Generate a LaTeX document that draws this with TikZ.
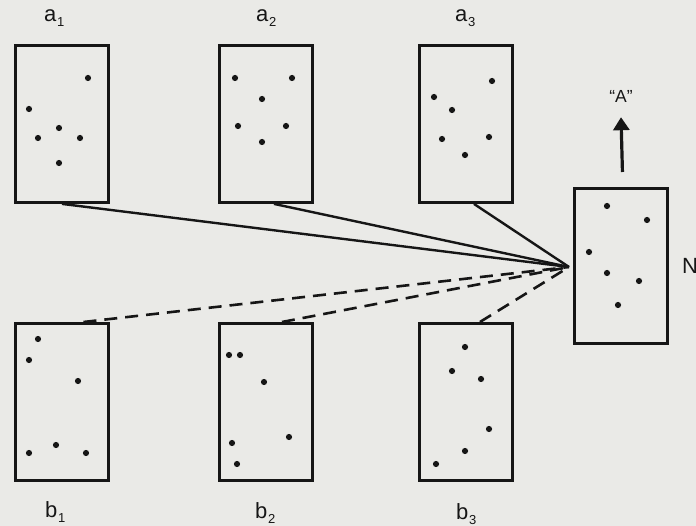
\documentclass[tikz,border=0pt]{standalone}
\usepackage{fontspec}
\setmainfont{Liberation Sans}
\usetikzlibrary{arrows.meta,calc}
\definecolor{bg}{RGB}{234,234,231}
\definecolor{ink}{RGB}{22,22,22}
\begin{document}
\begin{tikzpicture}[x=1pt,y=-1pt,
  box/.style={draw=ink, line width=2.9pt, minimum width=93pt, minimum height=157pt, inner sep=0pt, anchor=north west},
  conn/.style={draw=ink, line width=2.4pt},
  dconn/.style={draw=ink, line width=2.6pt, dash pattern=on 13pt off 8pt},
  lab/.style={font=\fontsize{22}{22}\selectfont, inner sep=0pt, anchor=base west, text=ink},
  dotc/.style={fill=ink}]
\useasboundingbox (0,0) rectangle (696,526);
\fill[bg] (0,0) rectangle (696,526);
\newcommand{\sbx}[1]{\kern0.6pt\raisebox{-5pt}{\fontsize{13}{13}\selectfont #1}}
% boxes
\node[box] (a1) at (14,44) {};
\node[box] (a2) at (218,44) {};
\node[box] (a3) at (418,44) {};
\node[box, minimum height=155pt] (N) at (573,187) {};
\node[box] (b1) at (14,322) {};
\node[box] (b2) at (218,322) {};
\node[box] (b3) at (418,322) {};
% dots
\foreach \p in {(88,78),(29,109),(59,128),(38,138),(80,138),(59,163),
                (235,78),(292,78),(262,99),(238,126),(286,126),(262,142),
                (492,81),(434,97),(452,110),(442,139),(489,137),(465,155),
                (607,206),(647,220),(589,252),(607,273),(639,281),(618,305),
                (38,339),(29,360),(78,381),(56,445),(29,453),(86,453),
                (229,355),(240,355),(264,382),(289,437),(232,443),(237,464),
                (465,347),(452,371),(481,379),(489,429),(465,451),(436,464)}
  \fill[dotc] \p circle (3.1);
% labels
\node[lab] (la1) at (44,22) {a\sbx{1}};
\node[lab] (la2) at (256,22) {a\sbx{2}};
\node[lab] (la3) at (455,22) {a\sbx{3}};
\node[lab] (lb1) at (45,517) {b\sbx{1}};
\node[lab] (lb2) at (255,518) {b\sbx{2}};
\node[lab] (lb3) at (456,519) {b\sbx{3}};
\node[lab] (lN) at (682,274) {N};
\node[font=\fontsize{17.5}{17.5}\selectfont, inner sep=0pt, anchor=base, text=ink] (lA) at (621,103) {“A”};
% connectors
\coordinate (c) at (569,267);
\draw[conn] (a1.south) -- (c);
\draw[conn] ([xshift=8pt]a2.south) -- (c);
\draw[conn] ([xshift=8pt]a3.south) -- (c);
\draw[dconn] ([xshift=21.5pt]b1.north) -- (c);
\draw[dconn] ([xshift=16pt]b2.north) -- (c);
\draw[dconn] ([xshift=14pt]b3.north) -- (c);
\draw[draw=ink, line width=3.2pt, -{Triangle[width=16pt,length=13pt]}]
  ([xshift=1.5pt,yshift=15pt]N.north) -- ([yshift=-14pt]lA.south);
\end{tikzpicture}
\end{document}
